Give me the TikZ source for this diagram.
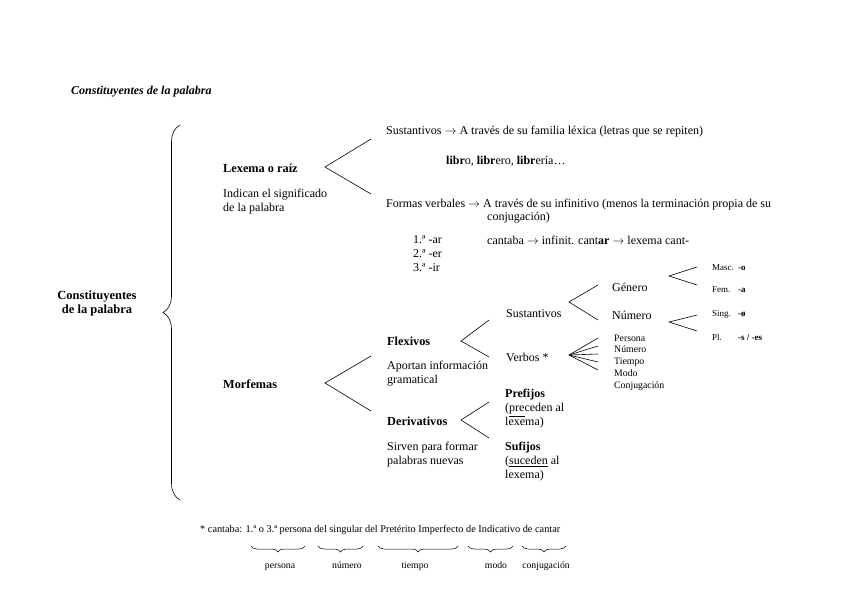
\documentclass[tikz,border=0pt]{standalone}
\usepackage{fontspec}
\setmainfont{Liberation Serif}
\usetikzlibrary{decorations.pathreplacing}

\begin{document}
\begin{tikzpicture}[
      x=1pt, y=-1pt,
      txt/.style={anchor=west, inner sep=0pt, align=left, font=\fontsize{12}{14}\selectfont},
      bold/.style={txt, font=\fontsize{12.3}{14}\selectfont\bfseries},
      small/.style={anchor=west, inner sep=0pt, align=left, font=\fontsize{9.8}{11.8}\selectfont},
      tiny/.style={anchor=west, inner sep=0pt, align=left, font=\fontsize{9}{11}\selectfont},
      label/.style={anchor=base, inner sep=0pt, font=\fontsize{9.7}{10}\selectfont},
      branch/.style={line width=0.6pt},
      bracebig/.style={decorate, decoration={brace, amplitude=17pt}, line width=0.6pt},
      bracelow/.style={decorate, decoration={brace, mirror, amplitude=6pt}, line width=0.5pt}
    ]
    \useasboundingbox (0,0) rectangle (848,599);

    \node[txt, font=\fontsize{12}{14}\selectfont\bfseries\itshape] (title) at (71,92) {Constituyentes de la palabra};

    \node[anchor=center, inner sep=0pt, align=center, font=\fontsize{12.5}{14}\selectfont\bfseries] (root) at (97,303) {Constituyentes\\de la palabra};
    \coordinate (braceTop) at (180,125);
    \coordinate (braceBot) at (180,500);
    \draw[bracebig] (braceBot) -- (braceTop);

    % lexema
    \node[bold] (lexema) at (223,168) {Lexema o raíz};
    \node[txt] (lexdesc) at (223,202) {Indican el significado\\de la palabra};
    \coordinate (lexTip) at (325,167);
    \coordinate (lexUp) at (371,139);
    \coordinate (lexDown) at (371,194);
    \draw[branch] (lexUp) -- (lexTip) -- (lexDown);

    \node[txt] (sust) at (386,132) {Sustantivos $\rightarrow$ A través de su familia léxica (letras que se repiten)};
    \node[txt] (libro) at (446,161) {\textbf{libr}o, \textbf{libr}ero, \textbf{libr}ería\dots};
    \node[txt] (formas) at (386,205) {Formas verbales $\rightarrow$ A través de su infinitivo (menos la terminación propia de su};
    \node[txt] (formas2) at (487,218) {conjugación)};
    \node[txt] (conjs) at (413,254) {1.ª -ar\\2.ª -er\\3.ª -ir};
    \node[txt] (cantaba) at (487,240) {cantaba $\rightarrow$ infinit. cant\textbf{ar} $\rightarrow$ lexema cant-};

    % morfemas
    \node[bold] (morfemas) at (223,384) {Morfemas};
    \coordinate (morTip) at (325,383);
    \coordinate (morUp) at (371,356);
    \coordinate (morDown) at (371,411);
    \draw[branch] (morUp) -- (morTip) -- (morDown);

    \node[bold] (flexivos) at (387,341) {Flexivos};
    \node[txt] (flexdesc) at (387,374) {Aportan información\\gramatical};
    \coordinate (flexTip) at (461,341);
    \coordinate (flexUp) at (489,320);
    \coordinate (flexDown) at (489,357);
    \draw[branch] (flexUp) -- (flexTip) -- (flexDown);

    \node[bold] (deriv) at (387,421) {Derivativos};
    \node[txt] (derivdesc) at (387,455) {Sirven para formar\\palabras nuevas};
    \coordinate (derTip) at (461,420);
    \coordinate (derUp) at (489,402);
    \coordinate (derDown) at (489,438);
    \draw[branch] (derUp) -- (derTip) -- (derDown);

    \node[txt] (sustfx) at (506,314) {Sustantivos};
    \node[txt] (verbos) at (506,357) {Verbos *};
    \node[txt] (prefijos) at (505,409) {\textbf{Prefijos}\\(\underline{pre}ceden al\\lexema)};
    \node[txt] (sufijos) at (505,462) {\textbf{Sufijos}\\(\underline{suceden} al\\lexema)};

    \coordinate (sTip) at (569,302);
    \coordinate (sUp) at (598,285);
    \coordinate (sDown) at (598,320);
    \draw[branch] (sUp) -- (sTip) -- (sDown);

    \node[txt] (genero) at (612,287) {Género};
    \node[txt] (numero) at (612,315) {Número};

    \coordinate (vTip) at (569,355);
    \foreach \yy [count=\k] in {338,346,354,362,370}
      \coordinate (vEnd\k) at (598,\yy);
    \foreach \k in {1,...,5}
      \draw[branch] (vTip) -- (vEnd\k);
    \node[small] (rasgos) at (614,362.5) {Persona\\Número\\Tiempo\\Modo\\Conjugación};

    \coordinate (gTip) at (669,276);
    \coordinate (gUp) at (697,267);
    \coordinate (gDown) at (697,285);
    \draw[branch] (gUp) -- (gTip) -- (gDown);
    \coordinate (nTip) at (669,322);
    \coordinate (nUp) at (697,315);
    \coordinate (nDown) at (697,331);
    \draw[branch] (nUp) -- (nTip) -- (nDown);

    \node[tiny] (masc) at (712,268) {\makebox[26pt][l]{Masc.}\textbf{-o}};
    \node[tiny] (fem) at (712,290) {\makebox[26pt][l]{Fem.}\textbf{-a}};
    \node[tiny] (sing) at (712,314) {\makebox[26pt][l]{Sing.}\textbf{-ø}};
    \node[tiny] (pl) at (712,337) {\makebox[26pt][l]{Pl.}\textbf{-s / -es}};

    % nota
    \node[anchor=west, inner sep=0pt, font=\fontsize{10.3}{12}\selectfont] (nota) at (200,530) {* cantaba: 1.ª o 3.ª persona del singular del Pretérito Imperfecto de Indicativo de cantar};
    \coordinate (b1a) at (251,546); \coordinate (b1b) at (305,546);
    \coordinate (b2a) at (318,546); \coordinate (b2b) at (363,546);
    \coordinate (b3a) at (378,546); \coordinate (b3b) at (458,546);
    \coordinate (b4a) at (468,546); \coordinate (b4b) at (513,546);
    \coordinate (b5a) at (522,546); \coordinate (b5b) at (566,546);
    \draw[bracelow] (b1a) -- (b1b);
    \draw[bracelow] (b2a) -- (b2b);
    \draw[bracelow] (b3a) -- (b3b);
    \draw[bracelow] (b4a) -- (b4b);
    \draw[bracelow] (b5a) -- (b5b);
    \node[label] (lpersona) at (280,568) {persona};
    \node[label] (lnumero) at (347,568) {número};
    \node[label] (ltiempo) at (415,568) {tiempo};
    \node[label] (lmodo) at (496,568) {modo};
    \node[label] (lconj) at (546,568) {conjugación};
  \end{tikzpicture}
\end{document}
